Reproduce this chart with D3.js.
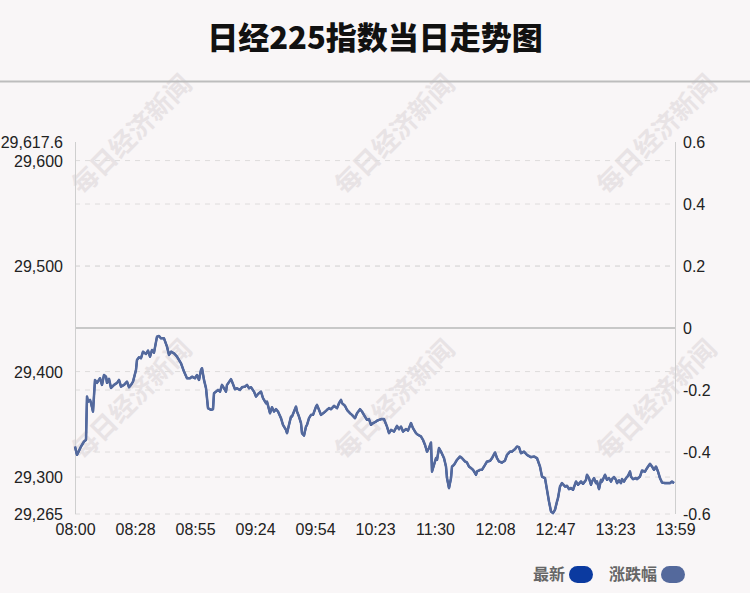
<!DOCTYPE html>
<html><head><meta charset="utf-8">
<script src="https://cdn.jsdelivr.net/npm/d3@7"></script>
<style>
html,body{margin:0;padding:0;background:#f9f6f7;}
svg{display:block;}
</style></head>
<body>
<svg id="chart" width="750" height="593"></svg>
<script>
// ---- data ----
const title = "日经225指数当日走势图";
const prevClose = 29441.3;
const xTickLabels = ["08:00","08:28","08:55","09:24","09:54","10:23","11:30","12:08","12:47","13:23","13:59"];
const leftTicks = [29617.6, 29600, 29500, 29400, 29300, 29265];
const rightTicks = [0.6, 0.4, 0.2, 0, -0.2, -0.4, -0.6];
const legendNames = ["最新", "涨跌幅"];
// position of each sample on the session (0..300)
const idx = [0,1,3,4.5,5.5,6,6.5,7.5,8,9,10,11,12.5,13.5,14.5,15.5,16,17,18,19.5,21,22,23,24.5,26,27,28,29,30.5,31,32,33,34,35.5,36.5,37.5,38.5,39.5,41,42,43,44.5,46,47,48,49.5,51,53,54.5,56,57.5,58.5,60,61,62,63,63.5,64.5,65.5,66.5,68,69,69.5,70.5,71.5,72.5,73.5,75.5,
76,78,78.5,80,81,82.5,83.5,85,86,87,88,89.5,90.5,91.5,93,94,95.5,96,97.5,98.5,99.5,100.5,101.5,103,104,105.5,106,107,108,108.5,109.5,110.5,111,112,113,113.5,114.5,115.5,116,117,118,119,120.5,121,122,123,124.5,126,127,128,129.5,131,132,133,133.5,135,136,137.5,138.5,140,141,142.5,143.5,145,146,147,148,149,150.5,
151,153,154.5,156,157,158,159.5,161,162,163,164,165.5,166.5,168,169,170.5,171.5,173,174,175,176,177,178,178.5,179,180.5,181,182,183,184.5,185.5,186,187,188,188.5,189.5,190.5,191,192.5,193.5,195,196,197,198,199,200.5,201,202.5,203.5,205,206,207.5,208.5,210,211,212,213.5,215,216,217.5,218.5,220,221,222,223,224.5,
226,228,229.5,231,232.5,233.5,235,236,237,238,239,240,241,241.5,242.5,243.5,245,246,247,248,249,250.5,251.5,253,254,255.5,256,257,258,258.5,259.5,260.5,261,262,263,263.5,265,266,267,268,268.5,269.5,270.5,271,272,273,273.5,274.5,275.5,276.5,277.5,278,279,280.5,281,282.5,283.5,285,286,287.5,288.5,289.5,290.5,291.5,292.5,293.5,295,296,297.5,298.5,299.5];
const price = [29328.8,29320.9,29328.8,29333.5,29335.1,29376.2,29371.4,29373.1,29370.2,29362.0,29392.0,29389.2,29393.6,29387.3,29396.7,29395.1,29389.2,29393.0,29384.4,29387.3,29389.2,29392.0,29385.7,29387.3,29390.4,29385.1,29387.3,29390.4,29401.5,29411.0,29413.5,29412.6,29418.8,29416.7,29419.8,29414.1,29420.4,29417.9,29433.1,29433.7,29431.5,29431.5,29423.6,29415.7,29418.8,29417.3,29414.1,29407.8,29399.9,29393.6,29393.6,29395.1,29393.6,29396.7,29392.0,29401.5,29403.1,29392.0,29384.1,29365.2,29363.6,29364.2,29379.4,29380.9,29382.5,29380.9,29387.3,29380.9,
29387.3,29392.7,29390.4,29383.2,29384.1,29382.5,29385.1,29385.7,29387.3,29384.1,29385.1,29380.9,29376.2,29378.7,29380.9,29374.7,29369.9,29371.4,29360.4,29366.1,29362.0,29364.2,29362.0,29355.7,29349.4,29344.6,29341.5,29349.4,29357.2,29357.2,29362.0,29366.7,29362.0,29357.2,29351.0,29341.5,29339.2,29347.7,29349.4,29355.7,29358.8,29358.8,29366.7,29368.3,29363.6,29358.8,29361.0,29363.6,29365.2,29364.2,29367.4,29365.2,29369.9,29373.1,29369.9,29367.4,29363.6,29360.4,29358.8,29355.7,29360.4,29364.2,29362.0,29357.2,29354.1,29354.8,29349.4,29351.0,29352.5,
29353.4,29354.8,29354.8,29347.7,29341.5,29344.6,29343.0,29348.4,29345.3,29347.7,29343.0,29345.3,29344.0,29351.0,29346.2,29341.5,29339.9,29338.3,29335.1,29330.4,29324.0,29327.3,29332.6,29305.1,29308.3,29317.8,29316.2,29327.3,29324.0,29317.8,29309.8,29298.8,29289.4,29298.8,29309.8,29311.4,29314.6,29316.2,29319.3,29317.8,29314.6,29313.6,29309.8,29308.3,29306.7,29302.0,29305.1,29306.7,29306.7,29311.4,29314.6,29315.2,29317.8,29323.1,29317.8,29314.6,29313.6,29315.5,29320.9,29324.0,29324.0,29326.3,29328.8,29328.2,29322.5,29324.0,
29320.9,29318.7,29319.3,29317.8,29309.8,29300.3,29298.8,29287.7,29276.6,29267.2,29265.7,29268.8,29276.6,29279.9,29290.9,29294.1,29290.9,29291.5,29288.4,29289.4,29287.7,29295.6,29292.5,29295.6,29293.4,29297.2,29302.0,29298.8,29292.5,29295.6,29298.8,29294.1,29295.6,29288.4,29297.2,29295.6,29302.0,29297.2,29298.8,29295.6,29297.9,29299.8,29297.2,29294.1,29296.6,29294.1,29297.9,29295.6,29298.8,29301.0,29305.1,29300.3,29297.9,29298.8,29297.9,29300.3,29306.0,29305.1,29308.3,29312.4,29309.8,29306.7,29309.8,29305.1,29298.8,29294.7,29294.1,29294.1,29294.1,29295.6,29294.1];
const pct = price.map(v => (v - prevClose) / prevClose * 100);

// ---- layout ----
const W = 750, H = 593;
const m = {left: 75, right: 675, top: 142, bottom: 514};
const svg = d3.select("#chart");
const bg = "#f9f6f7";
svg.append("rect").attr("width", W).attr("height", H).attr("fill", bg);

// watermarks
const wmPos = [[130,133],[393,133],[655,133],[130,398],[393,398],[655,398]];
svg.append("g").selectAll("text").data(wmPos).join("text")
  .attr("transform", d => `translate(${d[0]},${d[1]}) rotate(-45)`)
  .attr("text-anchor", "middle").attr("dominant-baseline", "central")
  .attr("font-family", "'Noto Sans CJK SC', sans-serif").attr("font-weight", "bold")
  .attr("font-size", 26).attr("fill", "#e8e3e5")
  .text("每日经济新闻");

// title
svg.append("text").attr("x", 375).attr("y", 49).attr("text-anchor", "middle")
  .attr("font-family", "'Noto Sans CJK SC', sans-serif").attr("font-weight", 900)
  .attr("font-size", 31).attr("fill", "#111").text(title);
svg.append("line").attr("x1", 0).attr("x2", W).attr("y1", 81.5).attr("y2", 81.5)
  .attr("stroke", "#bdbdbd").attr("stroke-width", 2);

// scales
const x = d3.scaleLinear().domain([0, 300]).range([m.left, m.right]);
const yL = d3.scaleLinear().domain([29265, 29617.6]).range([m.bottom, m.top]);
const yR = d3.scaleLinear().domain([-0.6, 0.6]).range([m.bottom, m.top]);

// grid lines
const gridYs = [29600, 29500, 29400, 29300].map(yL).concat([0.4, 0.2, -0.2, -0.4].map(yR)).concat([m.bottom]);
svg.append("g").selectAll("line").data(gridYs).join("line")
  .attr("x1", m.left).attr("x2", m.right).attr("y1", d => d).attr("y2", d => d)
  .attr("stroke", "#dedcdc").attr("stroke-width", 1).attr("stroke-dasharray", "5,5");
// zero line
svg.append("line").attr("x1", m.left).attr("x2", m.right).attr("y1", yR(0)).attr("y2", yR(0))
  .attr("stroke", "#c8c8c8").attr("stroke-width", 2);

// axes
const font = "'Liberation Sans', Arial, sans-serif";
const leftAxis = svg.append("g").attr("transform", `translate(${m.left},0)`)
  .call(d3.axisLeft(yL).tickValues(leftTicks).tickSize(0).tickPadding(12)
    .tickFormat(d => d === 29617.6 ? "29,617.6" : d3.format(",")(d)));
const rightAxis = svg.append("g").attr("transform", `translate(${m.right},0)`)
  .call(d3.axisRight(yR).tickValues(rightTicks).tickSize(0).tickPadding(8)
    .tickFormat(d => d === 0 ? "0" : d3.format(".1f")(d).replace("\u2212", "-")));
const bottomAxis = svg.append("g").attr("transform", `translate(0,${m.bottom})`)
  .call(d3.axisBottom(x).tickValues(d3.range(0, 301, 30)).tickSize(0).tickPadding(8)
    .tickFormat((d, i) => xTickLabels[i]));
[leftAxis, rightAxis, bottomAxis].forEach(g => {
  g.select(".domain").remove();
  g.selectAll("text").attr("font-family", font).attr("font-size", 16).attr("fill", "#222");
});
leftAxis.selectAll("text").attr("dy", "0.35em");
rightAxis.selectAll("text").attr("dy", "0.35em");
bottomAxis.selectAll("text").attr("dy", "0.8em");

// axis lines
svg.append("line").attr("x1", m.left + 0.5).attr("x2", m.left + 0.5).attr("y1", m.top).attr("y2", m.bottom)
  .attr("stroke", "#cfcfcf").attr("stroke-width", 1);
svg.append("line").attr("x1", m.right + 0.5).attr("x2", m.right + 0.5).attr("y1", m.top).attr("y2", m.bottom)
  .attr("stroke", "#cfcfcf").attr("stroke-width", 1);

// series
const colors = ["#0b3aa0", "#54699c"];
const lineL = d3.line().x((d, i) => x(idx[i])).y(d => yL(d));
const lineR = d3.line().x((d, i) => x(idx[i])).y(d => yR(d));
svg.append("path").datum(price).attr("d", lineL).attr("fill", "none")
  .attr("stroke", colors[0]).attr("stroke-width", 2).attr("stroke-linejoin", "round");
svg.append("path").datum(pct).attr("d", lineR).attr("fill", "none")
  .attr("stroke", colors[1]).attr("stroke-width", 2.5).attr("stroke-linejoin", "round");

// legend
const leg = svg.append("g").attr("font-family", "'Noto Sans CJK SC', sans-serif")
  .attr("font-weight", "bold").attr("font-size", 16).attr("fill", "#666");
const legItems = [{x: 533, w: 32}, {x: 609, w: 48}];
legendNames.forEach((n, i) => {
  const it = legItems[i];
  leg.append("text").attr("x", it.x).attr("y", 580).text(n);
  leg.append("rect").attr("x", it.x + it.w + 4).attr("y", 566).attr("width", 24).attr("height", 17)
    .attr("rx", 8.5).attr("fill", colors[i]);
});
</script>
</body></html>
